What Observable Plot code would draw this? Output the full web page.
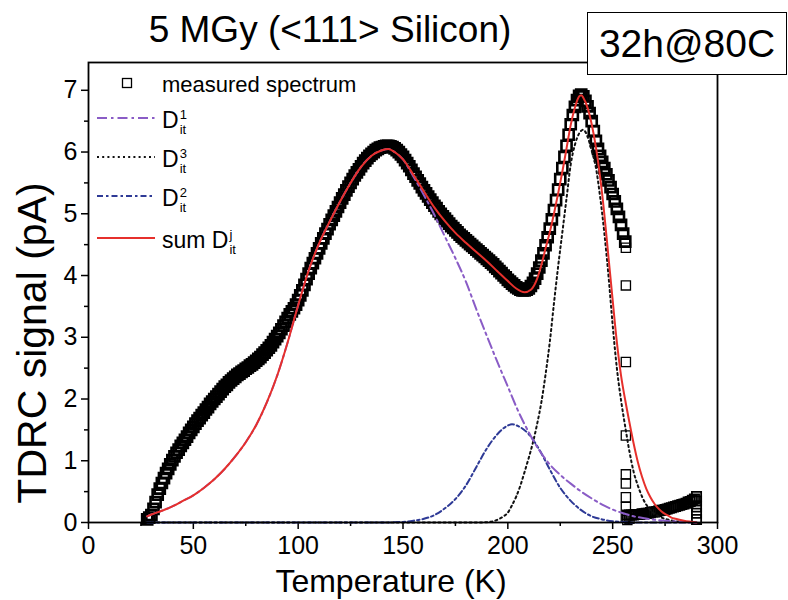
<!DOCTYPE html>
<html>
<head>
<meta charset="utf-8">
<script src="https://cdn.jsdelivr.net/npm/d3@7"></script>
<script src="https://cdn.jsdelivr.net/npm/@observablehq/plot@0.6"></script>
<style>
  body { margin: 0; background: #fff; }
  #wrap { position: relative; width: 788px; height: 600px; font-family: "Liberation Sans", Arial, sans-serif; color: #000; overflow: hidden; }
  #wrap svg { position: absolute; left: 0; top: 0; }
  .ov { position: absolute; white-space: nowrap; line-height: 1; }
  #title { left: 0; width: 660px; top: 11px; text-align: center; font-size: 37px; }
  #box { left: 587px; top: 12px; width: 198px; height: 61px; border: 1.5px solid #000; background: #fff;
         font-size: 39px; display: flex; align-items: center; justify-content: center; }
  #xlab { left: 191px; width: 400px; top: 565px; text-align: center; font-size: 32px; }
  #ylab { left: -168px; top: 321px; width: 400px; height: 44px; line-height: 44px; text-align: center;
          font-size: 41px; transform: rotate(-90deg); }
  .lab { position: absolute; left: 162px; font-size: 22px; line-height: 1; transform: translateY(-50%); white-space: nowrap; display: flex; align-items: center; }
  .ss { display: inline-flex; flex-direction: column; font-size: 13px; line-height: 15px; margin-left: 1px; margin-top: 4px; }
</style>
</head>
<body>
<div id="wrap">
  <div id="chart"></div>
  <svg id="legsym" width="788" height="600"></svg>
  <div class="ov" id="title">5 MGy (&lt;111&gt; Silicon)</div>
  <div class="ov" id="box">32h@80C</div>
  <div class="ov" id="xlab">Temperature (K)</div>
  <div class="ov" id="ylab">TDRC signal (pA)</div>
  <div id="legend"></div>
</div>
<script>
// ---------- data ----------
const xMajorTicks = [0, 50, 100, 150, 200, 250, 300];
const xMinorTicks = [25, 75, 125, 175, 225, 275];
const yMajorTicks = [0, 1, 2, 3, 4, 5, 6, 7];
const yMinorTicks = [0.5, 1.5, 2.5, 3.5, 4.5, 5.5, 6.5];

// measured spectrum, one reading per kelvin from 28 K to 256 K
const measuredStartK = 28;
const measuredPA = [
  0.05, 0.08, 0.12, 0.22, 0.33, 0.45, 0.55, 0.64, 0.72, 0.80,
  0.87, 0.94, 1.01, 1.07, 1.13, 1.18, 1.24, 1.29, 1.34, 1.39,
  1.45, 1.50, 1.55, 1.60, 1.65, 1.69, 1.74, 1.78, 1.83, 1.87,
  1.92, 1.96, 2.00, 2.04, 2.08, 2.12, 2.16, 2.20, 2.23, 2.27,
  2.30, 2.33, 2.36, 2.39, 2.41, 2.44, 2.46, 2.49, 2.51, 2.54,
  2.56, 2.59, 2.62, 2.65, 2.68, 2.72, 2.75, 2.79, 2.83, 2.87,
  2.92, 2.97, 3.02, 3.07, 3.13, 3.19, 3.25, 3.31, 3.37, 3.42,
  3.47, 3.53, 3.60, 3.68, 3.76, 3.85, 3.94, 4.03, 4.12, 4.20,
  4.28, 4.36, 4.44, 4.52, 4.60, 4.68, 4.75, 4.83, 4.90, 4.97,
  5.04, 5.11, 5.18, 5.25, 5.31, 5.38, 5.44, 5.50, 5.56, 5.62,
  5.67, 5.72, 5.77, 5.82, 5.86, 5.90, 5.94, 5.97, 6.00, 6.03,
  6.05, 6.07, 6.08, 6.09, 6.10, 6.10, 6.09, 6.08, 6.06, 6.03,
  6.00, 5.96, 5.92, 5.87, 5.82, 5.77, 5.71, 5.65, 5.60, 5.54,
  5.49, 5.43, 5.38, 5.33, 5.28, 5.23, 5.18, 5.13, 5.09, 5.04,
  5.00, 4.96, 4.92, 4.88, 4.84, 4.80, 4.77, 4.73, 4.70, 4.66,
  4.63, 4.60, 4.57, 4.54, 4.51, 4.48, 4.45, 4.42, 4.39, 4.36,
  4.33, 4.30, 4.27, 4.24, 4.21, 4.18, 4.14, 4.11, 4.07, 4.04,
  4.00, 3.97, 3.93, 3.90, 3.87, 3.84, 3.81, 3.79, 3.77, 3.76,
  3.76, 3.77, 3.79, 3.83, 3.88, 3.95, 4.03, 4.13, 4.24, 4.36,
  4.49, 4.62, 4.76, 4.91, 5.06, 5.22, 5.39, 5.56, 5.74, 5.92,
  6.10, 6.28, 6.45, 6.60, 6.73, 6.84, 6.91, 6.93, 6.90, 6.83,
  6.74, 6.63, 6.50, 6.34, 6.18, 6.05, 5.94, 5.84, 5.74, 5.64,
  5.54, 5.43, 5.32, 5.20, 5.08, 4.95, 4.82, 4.68, 4.55
];
// isolated squares of the sudden drop near 256 K
const dropK  = [256.3, 256.3, 256.3, 256.3, 256.3, 256.3, 256.3, 256.3, 256.3, 257, 258];
const dropPA = [4.45, 3.84, 2.60, 1.41, 0.78, 0.63, 0.41, 0.25, 0.09, 0.04, 0.06];
// low tail after the drop
const tailK  = [257, 258, 259, 260, 261, 262, 263, 264, 265, 266, 267, 268, 269, 270, 271, 272, 273,
                274, 275, 276, 277, 278, 279, 280, 281, 282, 283, 284, 285, 286, 287, 288, 289,
                290, 290, 290, 290, 290];
const tailPA = [0.12, 0.12, 0.12, 0.12, 0.13, 0.13, 0.13, 0.14, 0.14, 0.15, 0.15, 0.16, 0.17, 0.17, 0.18, 0.19, 0.20,
                0.20, 0.21, 0.22, 0.23, 0.24, 0.25, 0.26, 0.27, 0.28, 0.29, 0.30, 0.31, 0.33, 0.34, 0.36, 0.38,
                0.05, 0.15, 0.25, 0.35, 0.42];

// fitted components
const sumK  = [28, 30, 35, 40, 45, 50, 55, 60, 65, 70, 75, 80, 85, 90, 95, 100, 105, 110, 115, 120, 125, 130, 135, 140, 143, 146,
               150, 155, 160, 165, 170, 175, 180, 185, 190, 195, 200, 204, 208, 211, 214, 216, 218, 220, 222, 224, 226, 228,
               230, 232, 234, 235, 236, 238, 240, 242, 244, 246, 248, 250, 252, 254, 256, 258, 260, 262, 264, 266, 268,
               270, 272, 274, 276, 278, 280, 284, 288, 290];
const sumPA = [0.10, 0.13, 0.19, 0.26, 0.35, 0.44, 0.56, 0.70, 0.87, 1.07, 1.30, 1.58, 1.94, 2.38, 2.92, 3.52, 4.08, 4.52, 4.87, 5.20, 5.50, 5.76, 5.94, 6.03, 6.05, 6.00,
               5.88, 5.63, 5.36, 5.10, 4.88, 4.69, 4.53, 4.38, 4.23, 4.07, 3.91, 3.79, 3.73, 3.77, 3.95, 4.17, 4.44, 4.70, 5.00, 5.33, 5.68, 6.06,
               6.44, 6.72, 6.90, 6.92, 6.88, 6.72, 6.45, 6.08, 5.60, 5.00, 4.30, 3.60, 2.92, 2.38, 1.98, 1.62, 1.28, 0.98, 0.74, 0.55, 0.41,
               0.30, 0.22, 0.16, 0.12, 0.08, 0.06, 0.03, 0.01, 0.00];

const dit1K  = [28, 30, 35, 40, 45, 50, 55, 60, 65, 70, 75, 80, 85, 90, 95, 100, 105, 110, 115, 120, 125, 130, 135, 140, 143, 146,
                150, 155, 160, 165, 170, 175, 180, 185, 190, 195, 200, 205, 210, 215, 220, 225, 230, 235, 240, 245, 250, 255,
                260, 265, 270, 275, 280, 285, 290];
const dit1PA = [0.10, 0.13, 0.19, 0.26, 0.35, 0.44, 0.56, 0.70, 0.87, 1.07, 1.30, 1.58, 1.94, 2.38, 2.92, 3.52, 4.08, 4.52, 4.87, 5.20, 5.50, 5.76, 5.94, 6.03, 6.05, 6.00,
                5.88, 5.60, 5.30, 4.98, 4.63, 4.28, 3.90, 3.45, 3.02, 2.60, 2.20, 1.80, 1.46, 1.17, 0.94, 0.77, 0.63, 0.50, 0.39, 0.29, 0.21, 0.15,
                0.10, 0.07, 0.045, 0.03, 0.018, 0.008, 0.00];

const dit2K  = [28, 60, 100, 140, 150, 155, 160, 165, 170, 175, 180, 185, 190, 195, 200, 202, 205, 210, 215, 220, 225, 230,
                235, 240, 245, 250, 255, 260, 290];
const dit2PA = [0, 0, 0, 0, 0.01, 0.03, 0.06, 0.12, 0.23, 0.38, 0.60, 0.90, 1.20, 1.43, 1.57, 1.59, 1.56, 1.43, 1.18, 0.86, 0.56, 0.35,
                0.20, 0.10, 0.05, 0.02, 0.01, 0, 0];

const dit3K  = [28, 100, 185, 190, 193, 196, 198, 200, 202, 204, 206, 208, 210, 212, 214, 216, 218, 220, 222, 224, 226, 228,
                230, 232, 234, 236, 238, 240, 242, 244, 246, 248, 250, 252, 254, 256, 258, 260, 262, 264, 266, 268,
                270, 272, 274, 276, 280, 285, 290];
const dit3PA = [0, 0, 0, 0.005, 0.02, 0.06, 0.10, 0.16, 0.28, 0.42, 0.60, 0.82, 1.05, 1.30, 1.60, 1.95, 2.40, 2.92, 3.55, 4.15, 4.70, 5.25,
                5.80, 6.12, 6.30, 6.36, 6.25, 6.02, 5.75, 5.28, 4.70, 4.00, 3.20, 2.50, 1.98, 1.55, 1.15, 0.82, 0.60, 0.42, 0.29, 0.20,
                0.14, 0.10, 0.07, 0.05, 0.02, 0.01, 0];

// series styles
const colD1 = "#8a5cc6", colD2 = "#2e3a96", colD3 = "#111111", colSum = "#e6302c";
const dashD1 = "10,4,2.5,4", dashD2 = "6,3,2.5,3", dashD3 = "2,3.2";

// ---------- tables ----------
const bandRows = measuredPA.map((v, i) => ({T: measuredStartK + i, v}));
const toRows = (K, P) => K.map((T, i) => ({T, v: P[i]}));
const dropRows = toRows(dropK, dropPA), tailRows = toRows(tailK, tailPA);
const sumRows = toRows(sumK, sumPA), dit1Rows = toRows(dit1K, dit1PA),
      dit2Rows = toRows(dit2K, dit2PA), dit3Rows = toRows(dit3K, dit3PA);

const chart = Plot.plot({
  width: 788, height: 600,
  marginLeft: 88, marginRight: 71, marginTop: 62, marginBottom: 78,
  x: {domain: [0, 300]},
  y: {domain: [0, 7.45]},
  style: {fontFamily: "'Liberation Sans', Arial, sans-serif", fontSize: "24px", background: "transparent", color: "#000", overflow: "visible"},
  marks: [
    Plot.axisX({ticks: xMajorTicks, tickSize: 7, tickPadding: 7, label: null, strokeWidth: 1.5, fontSize: 25}),
    Plot.axisX({ticks: xMinorTicks, tickSize: 4, tickFormat: () => "", label: null, strokeWidth: 1.5}),
    Plot.axisY({ticks: yMajorTicks, tickSize: 7, tickPadding: 4, label: null, strokeWidth: 1.5, fontSize: 25}),
    Plot.axisY({ticks: yMinorTicks, tickSize: 4, tickFormat: () => "", label: null, strokeWidth: 1.5}),
    Plot.dot(bandRows, {x: "T", y: "v", symbol: "square", r: 5.7, stroke: "#000", strokeWidth: 2.6, fill: "none"}),
    Plot.dot(tailRows, {x: "T", y: "v", symbol: "square", r: 5.2, stroke: "#000", strokeWidth: 1.8, fill: "none"}),
    Plot.dot(dropRows, {x: "T", y: "v", symbol: "square", r: 5.2, stroke: "#000", strokeWidth: 1.3, fill: "none"}),
    Plot.line(dit3Rows, {x: "T", y: "v", stroke: colD3, strokeWidth: 2, strokeDasharray: dashD3, curve: "monotone-x"}),
    Plot.line(dit2Rows, {x: "T", y: "v", stroke: colD2, strokeWidth: 2, strokeDasharray: dashD2, curve: "monotone-x"}),
    Plot.line(dit1Rows, {x: "T", y: "v", stroke: colD1, strokeWidth: 2, strokeDasharray: dashD1, curve: "monotone-x"}),
    Plot.line(sumRows, {x: "T", y: "v", stroke: colSum, strokeWidth: 2, curve: "monotone-x"}),
    Plot.frame({stroke: "#000", strokeWidth: 1.8})
  ]
});
document.getElementById("chart").appendChild(chart);

// ---------- legend (layout in pixels) ----------
const legRows = [
  {kind: "square", y: 83, html: "measured spectrum"},
  {kind: "line", y: 118, color: colD1, dash: dashD1, html: 'D<span class="ss"><span>1</span><span>it</span></span>'},
  {kind: "line", y: 157, color: colD3, dash: dashD3, html: 'D<span class="ss"><span>3</span><span>it</span></span>'},
  {kind: "line", y: 196, color: colD2, dash: dashD2, html: 'D<span class="ss"><span>2</span><span>it</span></span>'},
  {kind: "line", y: 238, color: colSum, dash: null, html: 'sum D<span class="ss"><span>j</span><span>it</span></span>'}
];
const sym = d3.select("#legsym");
const leg = document.getElementById("legend");
legRows.forEach(r => {
  if (r.kind === "square") {
    sym.append("rect").attr("x", 122.5).attr("y", r.y - 4.5).attr("width", 9).attr("height", 9)
      .attr("fill", "none").attr("stroke", "#000").attr("stroke-width", 1.3);
  } else {
    const l = sym.append("line").attr("x1", 97).attr("x2", 155).attr("y1", r.y).attr("y2", r.y)
      .attr("stroke", r.color).attr("stroke-width", 2);
    if (r.dash) l.attr("stroke-dasharray", r.dash);
  }
  const d = document.createElement("div");
  d.className = "lab";
  d.style.top = (r.y + 2) + "px";
  d.innerHTML = r.html;
  if (r.kind !== "square") d.style.fontSize = "23px";
  leg.appendChild(d);
});
</script>
</body>
</html>
